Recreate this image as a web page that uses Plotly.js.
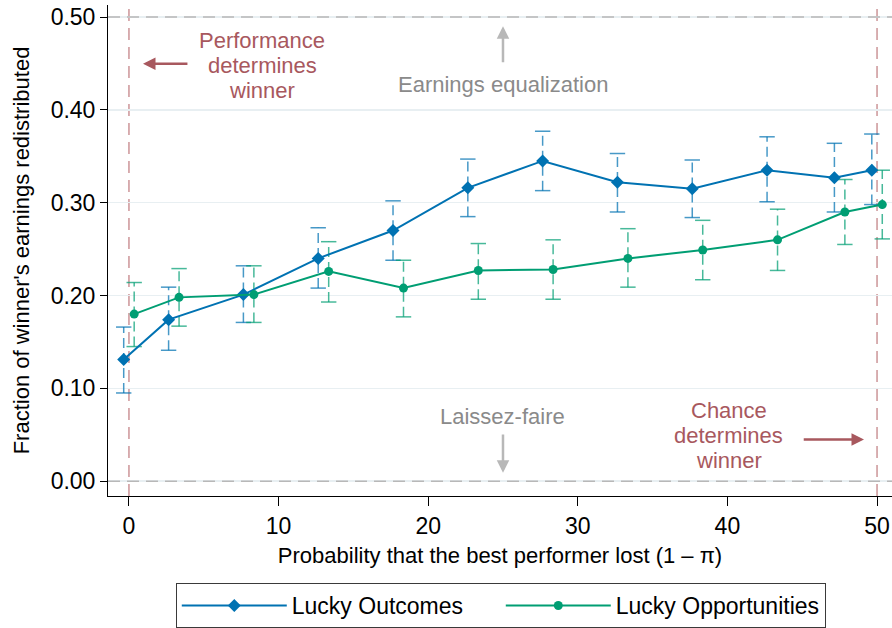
<!DOCTYPE html>
<html>
<head>
<meta charset="utf-8">
<script src="https://cdn.plot.ly/plotly-3.0.1.min.js"></script>
<style>html,body{margin:0;padding:0;background:#fff;}#chart{width:892px;height:628px;}</style>
</head>
<body>
<div id="chart"></div>
<script>
// Lucky Outcomes
const xOutcomes  = [-0.35, 2.65, 7.65, 12.65, 17.65, 22.65, 27.65, 32.65, 37.65, 42.65, 47.15, 49.65];
const yOutcomes  = [0.131, 0.174, 0.201, 0.240, 0.270, 0.316, 0.345, 0.322, 0.315, 0.335, 0.327, 0.335];
const loOutcomes = [0.095, 0.141, 0.171, 0.208, 0.238, 0.285, 0.313, 0.290, 0.284, 0.301, 0.290, 0.298];
const hiOutcomes = [0.166, 0.209, 0.232, 0.273, 0.302, 0.347, 0.377, 0.353, 0.346, 0.371, 0.364, 0.374];
// Lucky Opportunities
const xOpp  = [0.35, 3.35, 8.35, 13.35, 18.35, 23.35, 28.35, 33.35, 38.35, 43.35, 47.85, 50.35];
const yOpp  = [0.180, 0.198, 0.201, 0.226, 0.208, 0.227, 0.228, 0.240, 0.249, 0.260, 0.290, 0.298];
const loOpp = [0.145, 0.167, 0.171, 0.193, 0.177, 0.196, 0.196, 0.209, 0.217, 0.227, 0.255, 0.261];
const hiOpp = [0.214, 0.229, 0.232, 0.258, 0.238, 0.256, 0.260, 0.272, 0.281, 0.293, 0.325, 0.335];

const seriesNames = ['Lucky Outcomes', 'Lucky Opportunities'];
const xTicks = [0, 10, 20, 30, 40, 50];
const yTicks = [0, 0.1, 0.2, 0.3, 0.4, 0.5];

const BLUE = '#0072B2', GREEN = '#009E73';
const BLUE_E = 'rgba(0,114,178,0.72)', GREEN_E = 'rgba(0,158,115,0.72)';
const FONT = 'Liberation Sans, Arial, sans-serif';

function errTraces(x, lo, hi, color) {
  const lx = [], ly = [];
  x.forEach((xi, i) => { lx.push(xi, xi, null); ly.push(lo[i], hi[i], null); });
  return [
    {x: lx, y: ly, type: 'scatter', mode: 'lines', showlegend: false, hoverinfo: 'skip',
     line: {color: color, width: 1.5, dash: '10px,5px'}},
    {x: x.concat(x), y: lo.concat(hi), type: 'scatter', mode: 'markers', showlegend: false, hoverinfo: 'skip',
     marker: {symbol: 'line-ew', size: 11, line: {color: color, width: 1.5}}}
  ];
}

const data = [].concat(
  errTraces(xOutcomes, loOutcomes, hiOutcomes, BLUE_E),
  errTraces(xOpp, loOpp, hiOpp, GREEN_E),
  [
    {x: xOutcomes, y: yOutcomes, name: seriesNames[0], type: 'scatter', mode: 'lines+markers',
     line: {color: BLUE, width: 2}, marker: {symbol: 'diamond', size: 10, color: BLUE}},
    {x: xOpp, y: yOpp, name: seriesNames[1], type: 'scatter', mode: 'lines+markers',
     line: {color: GREEN, width: 2}, marker: {symbol: 'circle', size: 9, color: GREEN}}
  ]
);

const RED_T = '#a8585e', RED_L = '#cc9598', GREY_T = '#8a8a8a', GREY_A = '#b8b8b8';
function txt(x, y, s, color) {
  return {x: x, y: y, xref: 'x', yref: 'y', text: s, showarrow: false,
          font: {family: FONT, size: 22, color: color}, xanchor: 'center', yanchor: 'middle'};
}
function arr(ax, ay, x, y, color) {
  return {x: x, y: y, ax: ax, ay: ay, xref: 'x', yref: 'y', axref: 'x', ayref: 'y', text: '',
          showarrow: true, arrowhead: 2, arrowsize: 1, arrowwidth: 2.5, arrowcolor: color};
}

const annotations = [
  txt(8.92, 0.4746, 'Performance', RED_T),
  txt(8.92, 0.4477, 'determines', RED_T),
  txt(8.92, 0.4208, 'winner', RED_T),
  arr(4.01, 0.4498, 0.94, 0.4498, RED_T),
  txt(25.0, 0.4272, 'Earnings equalization', GREY_T),
  arr(25.0, 0.4498, 25.0, 0.490, GREY_A),
  txt(25.0, 0.0694, 'Laissez-faire', GREY_T),
  arr(25.0, 0.0518, 25.0, 0.009, GREY_A),
  txt(40.1, 0.0765, 'Chance', RED_T),
  txt(40.1, 0.0496, 'determines', RED_T),
  txt(40.1, 0.0227, 'winner', RED_T),
  arr(45.0, 0.045, 49.13, 0.045, RED_T)
];

const shapes = [
  {type: 'line', xref: 'paper', yref: 'y', x0: 0, x1: 1, y0: 0, y1: 0, layer: 'above',
   line: {color: GREY_A, width: 1.5, dash: '12px,7px'}},
  {type: 'line', xref: 'paper', yref: 'y', x0: 0, x1: 1, y0: 0.5, y1: 0.5, layer: 'above',
   line: {color: GREY_A, width: 1.5, dash: '12px,7px'}},
  {type: 'line', xref: 'x', yref: 'paper', x0: 0, x1: 0, y0: 0, y1: 1, layer: 'below',
   line: {color: RED_L, width: 1.5, dash: '12px,7px'}},
  {type: 'line', xref: 'x', yref: 'paper', x0: 50, x1: 50, y0: 0, y1: 1, layer: 'below',
   line: {color: RED_L, width: 1.5, dash: '12px,7px'}}
];

const layout = {
  width: 892, height: 628,
  margin: {l: 108, r: 0, t: 5, b: 132},
  paper_bgcolor: '#ffffff', plot_bgcolor: '#ffffff',
  font: {family: FONT, size: 23, color: '#000'},
  showlegend: true,
  legend: {orientation: 'h', x: 0.501, xanchor: 'center', y: -0.178, yanchor: 'top',
           bordercolor: '#3a3a3a', borderwidth: 1, font: {family: FONT, size: 23, color: '#000'},
           itemwidth: 105, entrywidth: 204, entrywidthmode: 'pixels'},
  xaxis: {range: [-1.4, 51.0], tickvals: xTicks, ticktext: xTicks.map(String), ticks: 'outside', ticklen: 9,
          tickcolor: '#000', tickwidth: 1, showline: true, linecolor: '#000', linewidth: 1,
          showgrid: false, zeroline: false, tickfont: {size: 23},
          title: {text: 'Probability that the best performer lost (1 \u2013 \u03c0)', font: {size: 22}, standoff: 10}},
  yaxis: {range: [-0.016, 0.513], tickvals: yTicks, tickformat: '.2f', ticks: 'outside', ticklen: 7,
          tickcolor: '#000', tickwidth: 1, showline: true, linecolor: '#000', linewidth: 1,
          showgrid: true, gridcolor: '#e8eff2', gridwidth: 1.5, zeroline: false, tickfont: {size: 23},
          title: {text: "Fraction of winner's earnings redistributed", font: {size: 22}, standoff: 14}},
  shapes: shapes,
  annotations: annotations
};

Plotly.newPlot('chart', data, layout, {displayModeBar: false, staticPlot: true});
</script>
</body>
</html>
